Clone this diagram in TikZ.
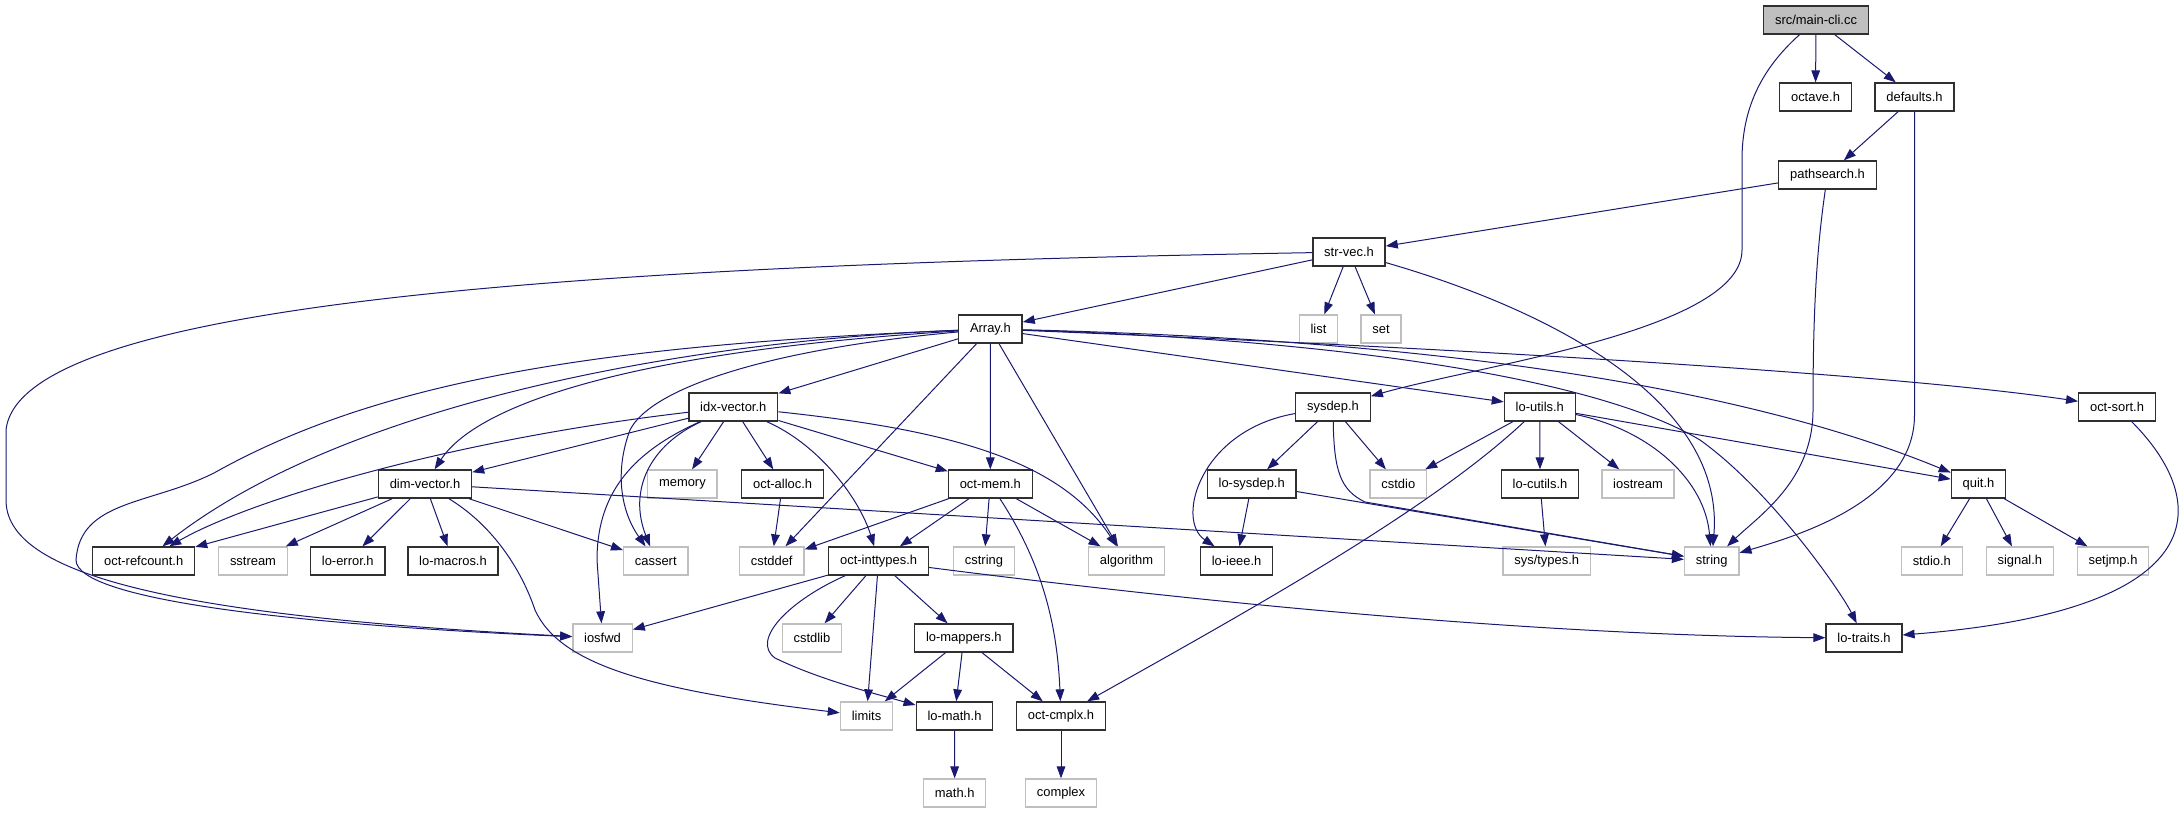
\documentclass[tikz,border=0pt]{standalone}
\usepackage{fontspec}
\setmainfont{Liberation Sans}
\usepackage{xcolor}
\usepackage{tikz}
\usetikzlibrary{arrows.meta}
\usetikzlibrary{calc}

\definecolor{edgeblue}{HTML}{191970}
\definecolor{sysgray}{HTML}{BFBFBF}
\definecolor{hdrline}{HTML}{303030}

\begin{document}
\begin{tikzpicture}[x=0.75pt,y=-0.75pt,
	hdr/.style={draw=hdrline, line width=1pt, fill=white, inner xsep=8.5pt, inner ysep=0pt, minimum height=21pt, font=\fontsize{9.7}{11}\selectfont},
	sys/.style={hdr, draw=sysgray},
	mainbox/.style={hdr, fill=sysgray},
	edge/.style={draw=edgeblue, line width=0.75pt, -{Triangle[length=9pt,width=6.5pt]}}]

	\useasboundingbox (0,0) rectangle (2181,813);

	\node [mainbox] (maincli) at (1816,20) {src/main-cli.cc};
	\node [hdr] (octave) at (1815.5,97) {octave.h};
	\node [hdr] (defaults) at (1914.5,97) {defaults.h};
	\node [hdr] (pathsearch) at (1827.5,175) {pathsearch.h};
	\node [hdr] (strvec) at (1349,252) {str-vec.h};

	\node [hdr] (array) at (990.4,329) {Array.h};
	\node [sys] (list) at (1318.5,329) {list};
	\node [sys] (set) at (1381,329) {set};

	\node [hdr] (idxvector) at (733.3,407) {idx-vector.h};
	\node [hdr] (sysdep) at (1333,407) {sysdep.h};
	\node [hdr] (loutils) at (1539.8,407) {lo-utils.h};
	\node [hdr] (octsort) at (2117,407) {oct-sort.h};

	\node [hdr] (dimvector) at (425,484) {dim-vector.h};
	\node [sys] (memory) at (682.4,484) {memory};
	\node [hdr] (octalloc) at (782.6,484) {oct-alloc.h};
	\node [hdr] (octmem) at (990.3,484) {oct-mem.h};
	\node [hdr] (losysdep) at (1251.7,484) {lo-sysdep.h};
	\node [sys] (cstdio) at (1398.3,484) {cstdio};
	\node [hdr] (locutils) at (1540,484) {lo-cutils.h};
	\node [sys] (iostream) at (1638,484) {iostream};
	\node [hdr] (quit) at (1978.5,484) {quit.h};

	\node [hdr] (octrefcount) at (143.7,561) {oct-refcount.h};
	\node [sys] (sstream) at (253,561) {sstream};
	\node [hdr] (loerror) at (347.8,561) {lo-error.h};
	\node [hdr] (lomacros) at (453,561) {lo-macros.h};
	\node [sys] (cassert) at (655.8,561) {cassert};
	\node [sys] (cstddef) at (771.7,561) {cstddef};
	\node [hdr] (octinttypes) at (878.6,561) {oct-inttypes.h};
	\node [sys] (cstring) at (984,561) {cstring};
	\node [sys] (algorithm) at (1126.5,561) {algorithm};
	\node [hdr] (loieee) at (1236.6,561) {lo-ieee.h};
	\node [sys] (systypes) at (1546.7,561) {sys/types.h};
	\node [sys] (string) at (1711.7,561) {string};
	\node [sys] (stdioh) at (1931.8,561) {stdio.h};
	\node [sys] (signalh) at (2019.8,561) {signal.h};
	\node [sys] (setjmph) at (2113,561) {setjmp.h};

	\node [sys] (iosfwd) at (602.5,638) {iosfwd};
	\node [sys] (cstdlib) at (811.9,638) {cstdlib};
	\node [hdr] (lomappers) at (963.8,638) {lo-mappers.h};
	\node [hdr] (lotraits) at (1864,638) {lo-traits.h};

	\node [sys] (limits) at (866.5,716) {limits};
	\node [hdr] (lomath) at (954.5,716) {lo-math.h};
	\node [hdr] (octcmplx) at (1061,716) {oct-cmplx.h};

	\node [sys] (mathh) at (954.7,793) {math.h};
	\node [sys] (complex) at (1061,793) {complex};

	% src/main-cli.cc
	\draw [edge] (maincli) -- (octave);
	\draw [edge] (maincli) -- (defaults);
	\draw [edge] (maincli) .. controls (1760,70) and (1742,110) .. (1742,160) -- (1742,250) .. controls (1742,330) and (1480,365) .. (sysdep);

	\draw [edge] (defaults) -- (pathsearch);
	\draw [edge] (defaults) -- (1914.5,415) .. controls (1914.5,500) and (1800,535) .. (string);

	\draw [edge] (pathsearch) -- (strvec);
	\draw [edge] (pathsearch) .. controls (1815,260) and (1813,330) .. (1813,410) .. controls (1813,480) and (1760,515) .. (string);

	% str-vec.h
	\draw [edge] (strvec) -- (array);
	\draw [edge] (strvec) -- (list);
	\draw [edge] (strvec) -- (set);
	\draw [edge] (strvec) .. controls (1550,310) and (1725,400) .. (string);
	\draw [edge] (strvec) .. controls (600,265) and (20,300) .. (6,430) -- (6,500) .. controls (6,570) and (150,615) .. (iosfwd);

	% Array.h
	\draw [edge] (array) -- (idxvector);
	\draw [edge] (array) .. controls (650,350) and (480,400) .. (dimvector);
	\draw [edge] (array) .. controls (700,340) and (350,400) .. (octrefcount);
	\draw [edge] (array) .. controls (600,345) and (380,380) .. (214,473) .. controls (150,505) and (80,500) .. (76,560) .. controls (76,600) and (300,625) .. (iosfwd);
	\draw [edge] (array) .. controls (760,350) and (650,390) .. (630,430) .. controls (615,470) and (620,510) .. (cassert);
	\draw [edge] (array) -- (cstddef);
	\draw [edge] (array) -- (octmem);
	\draw [edge] (array) -- (algorithm);
	\draw [edge] (array) -- (loutils);
	\draw [edge] (array) .. controls (1350,340) and (1600,380) .. (1700,440) .. controls (1770,490) and (1840,590) .. (lotraits);
	\draw [edge] (array) .. controls (1450,340) and (1750,390) .. (quit);
	\draw [edge] (array) .. controls (1500,350) and (1900,375) .. (octsort);

	% idx-vector.h
	\draw [edge] (idxvector) -- (dimvector);
	\draw [edge] (idxvector) .. controls (450,440) and (250,500) .. (octrefcount);
	\draw [edge] (idxvector) .. controls (650,445) and (628,490) .. (cassert);
	\draw [edge] (idxvector) .. controls (625,455) and (597,500) .. (597,560) -- (iosfwd);
	\draw [edge] (idxvector) -- (memory);
	\draw [edge] (idxvector) -- (octalloc);
	\draw [edge] (idxvector) .. controls (820,445) and (860,500) .. (octinttypes);
	\draw [edge] (idxvector) -- (octmem);
	\draw [edge] (idxvector) .. controls (950,430) and (1060,460) .. (algorithm);

	% dim-vector.h
	\draw [edge] (dimvector) -- (octrefcount);
	\draw [edge] (dimvector) -- (sstream);
	\draw [edge] (dimvector) -- (loerror);
	\draw [edge] (dimvector) -- (lomacros);
	\draw [edge] (dimvector) -- (cassert);
	\draw [edge] (dimvector) -- (string);
	\draw [edge] (dimvector) .. controls (500,530) and (525,580) .. (535,610) .. controls (560,665) and (650,690) .. (limits);

	\draw [edge] (octalloc) -- (cstddef);

	% oct-mem.h
	\draw [edge] (octmem) -- (cstddef);
	\draw [edge] (octmem) -- (octinttypes);
	\draw [edge] (octmem) -- (cstring);
	\draw [edge] (octmem) -- (algorithm);
	\draw [edge] (octmem) .. controls (1040,560) and (1057,620) .. (octcmplx);

	% sysdep.h
	\draw [edge] (sysdep) -- (losysdep);
	\draw [edge] (sysdep) -- (cstdio);
	\draw [edge] (sysdep) .. controls (1200,430) and (1175,520) .. (loieee);
	\draw [edge] (sysdep) .. controls (1334,470) and (1340,490) .. (1365,502) -- (string);

	\draw [edge] (losysdep) -- (loieee);
	\draw [edge] (losysdep) -- (string);

	% lo-utils.h
	\draw [edge] (loutils) -- (cstdio);
	\draw [edge] (loutils) -- (locutils);
	\draw [edge] (loutils) -- (iostream);
	\draw [edge] (loutils) .. controls (1650,430) and (1705,480) .. (string);
	\draw [edge] (loutils) -- (quit);
	\draw [edge] (loutils) .. controls (1430,510) and (1250,610) .. (octcmplx);

	\draw [edge] (locutils) -- (systypes);

	\draw [edge] (quit) -- (stdioh);
	\draw [edge] (quit) -- (signalh);
	\draw [edge] (quit) -- (setjmph);

	\draw [edge] (octsort) .. controls (2210,500) and (2220,610) .. (lotraits);

	% oct-inttypes.h
	\draw [edge] (octinttypes) -- (iosfwd);
	\draw [edge] (octinttypes) -- (cstdlib);
	\draw [edge] (octinttypes) -- (limits);
	\draw [edge] (octinttypes) -- (lomappers);
	\draw [edge] (octinttypes) .. controls (790,600) and (750,640) .. (775,658) .. controls (820,680) and (880,695) .. (lomath);
	\draw [edge] (octinttypes) .. controls (1300,615) and (1600,636) .. (lotraits);

	\draw [edge] (lomappers) -- (limits);
	\draw [edge] (lomappers) -- (lomath);
	\draw [edge] (lomappers) -- (octcmplx);

	\draw [edge] (lomath) -- (mathh);
	\draw [edge] (octcmplx) -- (complex);

\end{tikzpicture}
\end{document}
